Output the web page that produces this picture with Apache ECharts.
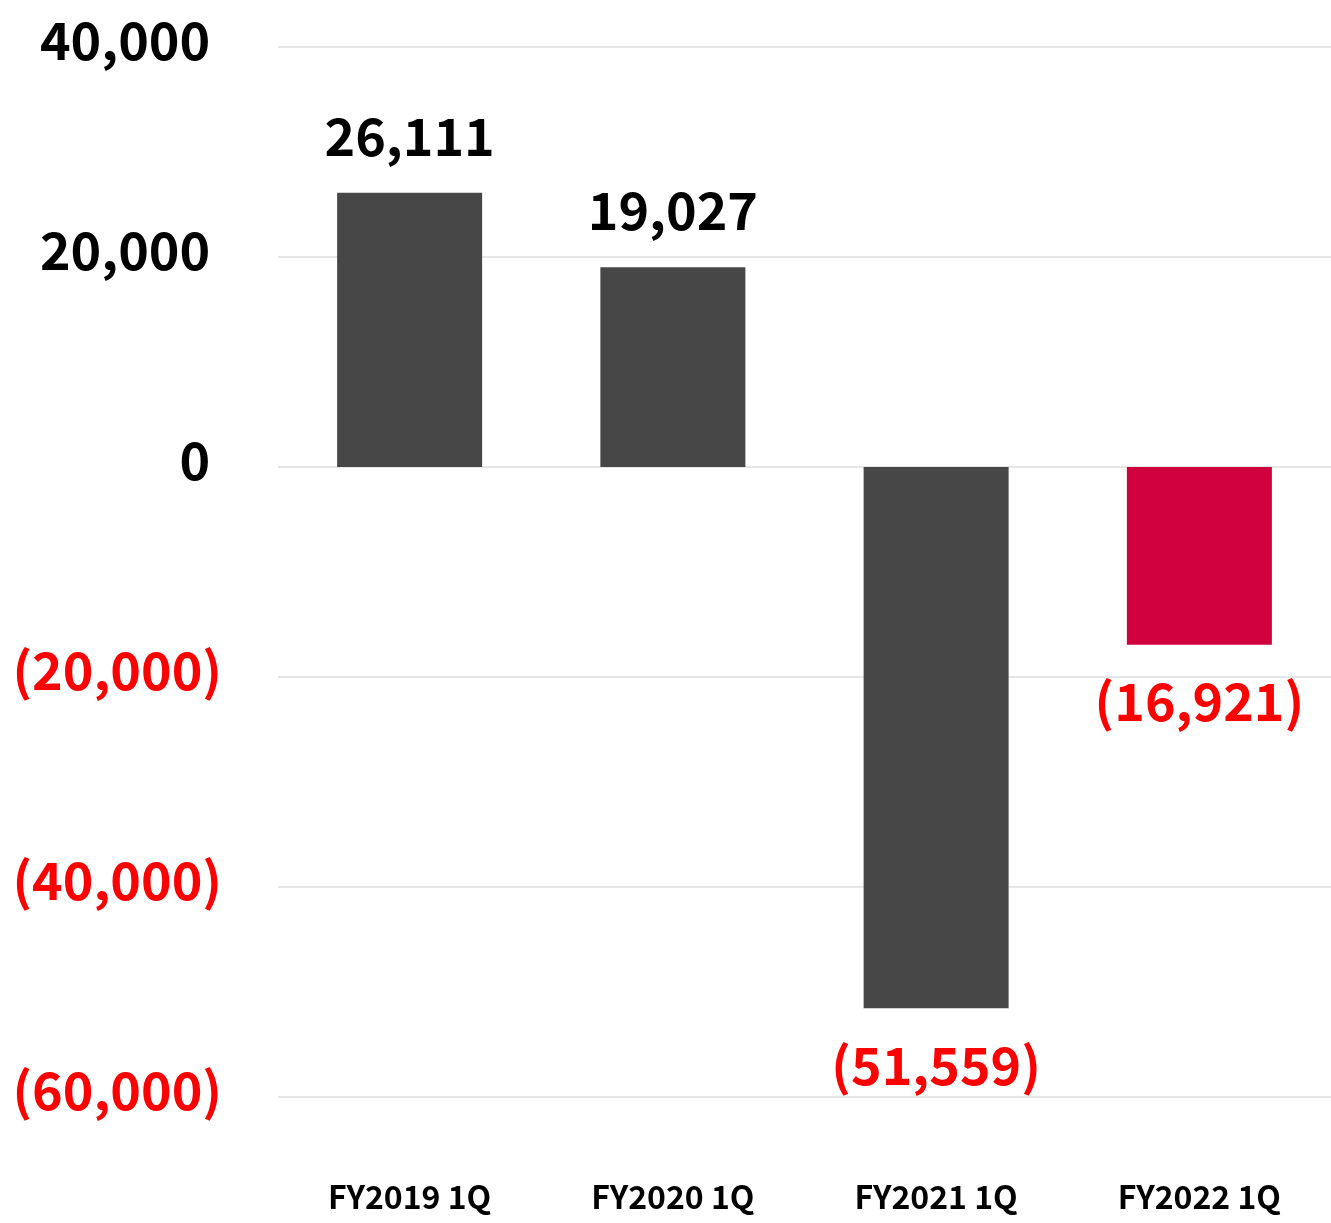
<!DOCTYPE html>
<html>
<head>
<meta charset="utf-8">
<script src="https://cdn.jsdelivr.net/npm/echarts@6/dist/echarts.min.js"></script>
<style>
html,body{margin:0;padding:0;background:#fff;}
#chart{width:1331px;height:1223px;}
</style>
</head>
<body>
<div id="chart"></div>
<script>
const categories = ['FY2019 1Q', 'FY2020 1Q', 'FY2021 1Q', 'FY2022 1Q'];
const values = [26111, 19027, -51559, -16921];
const yMin = -60000, yMax = 40000, yInterval = 20000;

const FONT = '"Noto Sans CJK JP", "Noto Sans", sans-serif';
const fmt = v => Math.abs(v).toLocaleString('en-US');

const chart = echarts.init(document.getElementById('chart'));
chart.setOption({
  animation: false,
  grid: { left: 278, right: 0, top: 47, bottom: 126 },
  xAxis: {
    type: 'category',
    data: categories,
    axisLine: { show: false },
    axisTick: { show: false },
    axisLabel: {
      fontFamily: FONT, fontWeight: 'bold', fontSize: 32, color: '#000', margin: 84
    }
  },
  yAxis: {
    type: 'value',
    min: yMin, max: yMax, interval: yInterval,
    axisLine: { show: false },
    axisTick: { show: false },
    splitLine: { lineStyle: { color: '#e6e6e6', width: 2 } },
    axisLabel: {
      margin: 56,
      formatter: v => (v < 0 ? '{neg|(' + fmt(v) + ')}' : '{pos|' + fmt(v) + ' }'),
      rich: {
        pos: { color: '#000', fontFamily: FONT, fontWeight: 'bold', fontSize: 52, padding: [0, 0, 13, 0] },
        neg: { color: '#ff0000', fontFamily: FONT, fontWeight: 'bold', fontSize: 52, padding: [0, 0, 13, 0] }
      }
    }
  },
  series: [{
    type: 'bar',
    barWidth: 145,
    data: values.map(v => ({
      value: v,
      label: { position: v < 0 ? 'bottom' : 'top' }
    })),
    itemStyle: {
      color: p => (p.dataIndex === values.length - 1 ? '#d0003f' : '#474747')
    },
    label: {
      show: true,
      distance: 31,
      fontFamily: FONT, fontWeight: 'bold', fontSize: 52,
      formatter: p => (p.value < 0 ? '{neg|(' + fmt(p.value) + ')}' : '{pos|' + fmt(p.value) + '}'),
      rich: {
        pos: { color: '#000', fontFamily: FONT, fontWeight: 'bold', fontSize: 52 },
        neg: { color: '#ff0000', fontFamily: FONT, fontWeight: 'bold', fontSize: 52 }
      }
    }
  }]
});
</script>
</body>
</html>
